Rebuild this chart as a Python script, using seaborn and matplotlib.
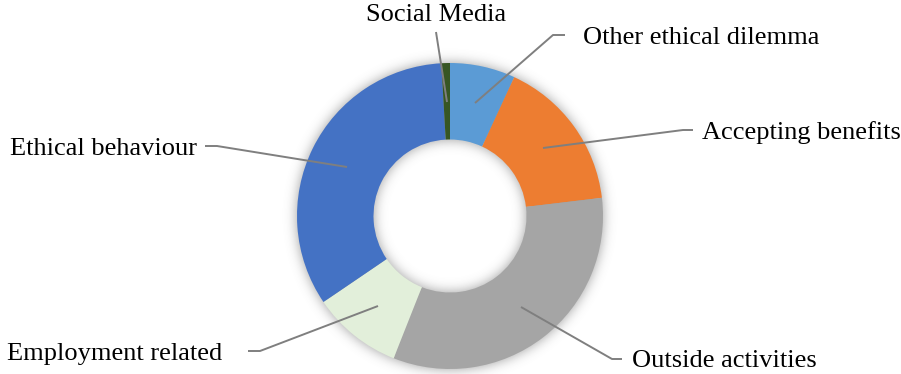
import numpy as np
import matplotlib
matplotlib.use("Agg")
import matplotlib.pyplot as plt
import seaborn as sns

# Share of enquiries by topic (percent), clockwise from 12 o'clock
categories = ["Other ethical dilemma", "Accepting benefits", "Outside activities",
              "Employment related", "Ethical behaviour", "Social Media"]
shares = [6.9, 16.2, 32.9, 9.5, 33.6, 0.9]
colors = ["#5B9BD5", "#ED7D31", "#A5A5A5", "#E2EFDA", "#4472C4", "#375623"]

sns.set_theme(style="white")
plt.rcParams["font.family"] = ["Liberation Serif", "DejaVu Serif"]

W, H = 901, 374
fig = plt.figure(figsize=(W / 100, H / 100), dpi=100)
ax = fig.add_axes([0, 0, 1, 1])

cx, cy = 450, 216          # ring centre (pixel units, y downwards)
r_out, r_in = 153, 76.5

# soft glow around the ring
yy, xx = np.mgrid[0:H, 0:W] + 0.5
rr = np.hypot(xx - cx, yy - cy)
ring = ((rr <= r_out) & (rr >= r_in)).astype(float)
sig = 6.0
k = np.arange(-18, 19)
g = np.exp(-0.5 * (k / sig) ** 2)
g /= g.sum()
blur = np.apply_along_axis(lambda v: np.convolve(v, g, mode="same"), 1, ring)
blur = np.apply_along_axis(lambda v: np.convolve(v, g, mode="same"), 0, blur)
shadow = np.zeros((H, W, 4))
shadow[..., :3] = 0.42
shadow[..., 3] = 0.65 * blur
ax.imshow(shadow, extent=(0, W, 0, H), origin="upper", zorder=0, interpolation="bilinear")

palette = sns.color_palette(colors)
ax.pie(shares, colors=palette, startangle=90, counterclock=False,
       radius=r_out, center=(cx, H - cy),
       wedgeprops=dict(width=r_out - r_in, linewidth=0, antialiased=True))

ax.set_xlim(0, W)
ax.set_ylim(0, H)
ax.set_aspect("equal")
ax.axis("off")

def fy(y):
    return H - y

line_kw = dict(color="#7F7F7F", linewidth=1.4, solid_capstyle="butt", zorder=5)

# leader lines (pixel coordinates) and label placement
leaders = {
    "Other ethical dilemma": ([(475, 103), (553, 35), (565, 35)], (583, 38), "left"),
    "Accepting benefits": ([(543, 148), (683, 130), (693, 130)], (702, 133), "left"),
    "Outside activities": ([(521, 307), (612, 359), (622, 359)], (632, 361), "left"),
    "Employment related": ([(378, 306), (260, 351), (248, 351)], (222, 354), "right"),
    "Ethical behaviour": ([(347, 167), (217, 146), (205, 146)], (197, 149), "right"),
    "Social Media": ([(447, 102), (436, 32)], (436, 15), "center"),
}

for name in categories:
    pts, (tx, ty), ha = leaders[name]
    xs = [p[0] for p in pts]
    ys = [fy(p[1]) for p in pts]
    ax.plot(xs, ys, **line_kw)
    ax.text(tx, fy(ty), name, ha=ha, va="center", fontsize=19, color="black")

fig.savefig("out.png", dpi=100, facecolor="white")
